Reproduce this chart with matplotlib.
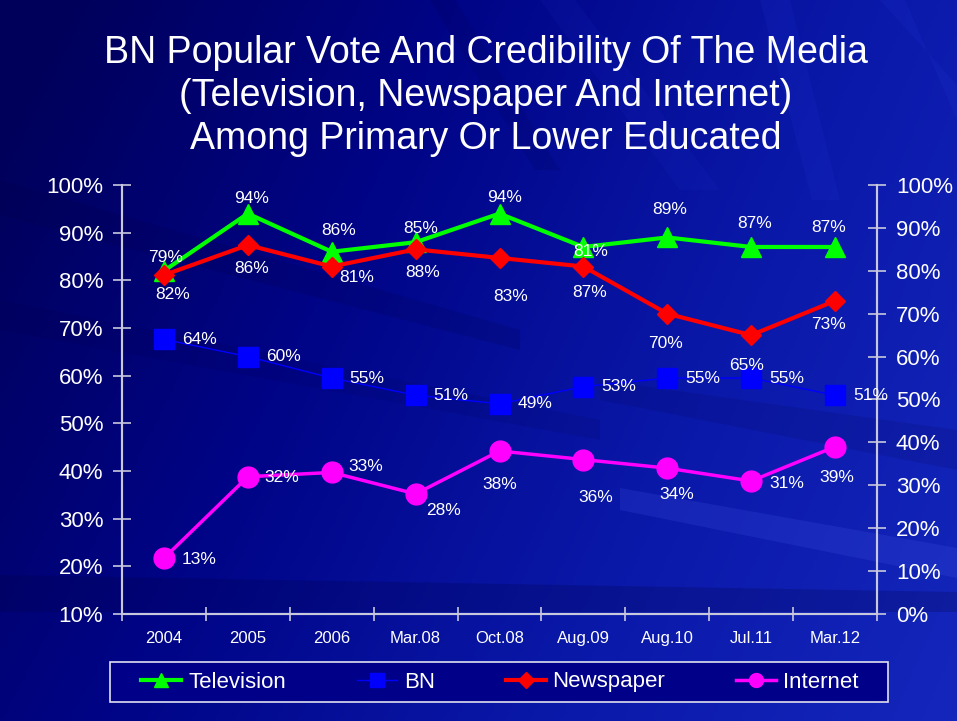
import matplotlib.pyplot as plt
import numpy as np
from matplotlib.colors import LinearSegmentedColormap
from matplotlib.lines import Line2D
from matplotlib.patches import Polygon, Rectangle
from matplotlib.ticker import FuncFormatter

periods = ["2004", "2005", "2006", "Mar.08", "Oct.08", "Aug.09", "Aug.10", "Jul.11", "Mar.12"]
television = [82, 94, 86, 88, 94, 87, 89, 87, 87]   # left axis (10-100%)
bn_vote = [64, 60, 55, 51, 49, 53, 55, 55, 51]      # right axis (0-100%)
newspaper = [79, 86, 81, 85, 83, 81, 70, 65, 73]    # right axis
internet = [13, 32, 33, 28, 38, 36, 34, 31, 39]     # right axis

# label offsets in pixels (dx, dy), purely layout
tv_off = [(9, -24), (4, 15), (7, 21), (7, -30), (5, 16), (6, -46), (2, 28), (3, 23), (-6, 19)]
np_off = [(2, 18), (4, -23), (25, -11), (5, 21), (11, -39), (7, 15), (-2, -30), (-5, -30), (-7, -24)]
net_off = [(35, -1), (34, -1), (34, 6), (28, -17), (0, -34), (12, -38), (9, -26), (36, -2), (2, -31)]

W, H = 957, 721
WHITE = "white"
AXIS = "#c8c8dc"

plt.rcParams["font.family"] = ["Liberation Sans", "DejaVu Sans"]

fig = plt.figure(figsize=(W / 100, H / 100), dpi=100)

# ---- background: navy gradient with a few soft streaks
bg = fig.add_axes([0, 0, 1, 1])
bg.set_xlim(0, W)
bg.set_ylim(H, 0)
bg.axis("off")
yy, xx = np.mgrid[0:1:300j, 0:1:300j]
grad = np.clip(0.75 * xx + 0.25 * yy - 0.05 * (1 - xx) * (1 - yy), 0, 1)
cmap = LinearSegmentedColormap.from_list("navy", ["#00005a", "#000486", "#0a18a8", "#1426bc"])
bg.imshow(grad, cmap=cmap, extent=[0, W, H, 0], aspect="auto", zorder=0)

streaks = [
    ([(540, 0), (575, 0), (720, 190), (680, 190)], "#3a50ff", 0.06),
    ([(760, 0), (790, 0), (840, 200), (812, 200)], "#3a50ff", 0.08),
    ([(880, 0), (905, 0), (957, 120), (957, 85)], "#3a50ff", 0.08),
    ([(430, 0), (455, 0), (560, 170), (535, 170)], "#000040", 0.12),
    ([(620, 488), (957, 548), (957, 578), (620, 510)], "#5a70ff", 0.14),
    ([(0, 180), (520, 330), (520, 350), (0, 215)], "#000040", 0.15),
    ([(0, 300), (600, 420), (600, 440), (0, 330)], "#000040", 0.10),
    ([(0, 575), (957, 592), (957, 612), (0, 612)], "#000040", 0.22),
    ([(600, 380), (957, 430), (957, 470), (600, 400)], "#000040", 0.12),
]
for pts, col, alpha in streaks:
    bg.add_patch(Polygon(pts, closed=True, facecolor=col, edgecolor="none", alpha=alpha, zorder=1))

# ---- title
title_lines = [
    "BN Popular Vote And Credibility Of The Media",
    "(Television, Newspaper And Internet)",
    "Among Primary Or Lower Educated",
]
for i, line in enumerate(title_lines):
    fig.text(486 / W, 1 - (63 + 43 * i) / H, line, color=WHITE, fontsize=27,
             ha="center", va="baseline")

# ---- main axes
ax = fig.add_axes([122 / W, 1 - 614 / H, (877 - 122) / W, (614 - 185) / H])
ax.patch.set_alpha(0)
x = np.arange(len(periods))
ax.set_xlim(-0.5, len(periods) - 0.5)
ax.set_ylim(10, 100)
ax.set_yticks(range(10, 101, 10))
ax.yaxis.set_major_formatter(FuncFormatter(lambda v, p: f"{int(v)}%"))

ax.set_xticks(np.arange(-0.5, len(periods), 1))
ax.set_xticklabels([])
ax.set_xticks(x, minor=True)
ax.set_xticklabels(periods, minor=True)
ax.tick_params(axis="x", which="major", direction="inout", length=10, width=1.2, color=AXIS)
ax.tick_params(axis="x", which="minor", length=0, pad=12, labelsize=12, labelcolor=WHITE)
ax.tick_params(axis="y", direction="inout", length=13, width=1.2, color=AXIS,
               labelsize=16, labelcolor=WHITE, pad=7)

ax2 = ax.twinx()
ax2.set_ylim(0, 100)
ax2.set_yticks(range(0, 101, 10))
ax2.yaxis.set_major_formatter(FuncFormatter(lambda v, p: f"{int(v)}%"))
ax2.tick_params(axis="y", direction="inout", length=13, width=1.2, color=AXIS,
                labelsize=16, labelcolor=WHITE, pad=7)

for a in (ax, ax2):
    a.spines["top"].set_visible(False)
    for s in ("left", "right", "bottom"):
        a.spines[s].set_color(AXIS)
        a.spines[s].set_linewidth(1.5)

# series
ax.plot(x, television, color="#00ff00", lw=3, marker="^", ms=14.5, zorder=3)
ax2.plot(x, bn_vote, color="#0000ff", lw=1, marker="s", ms=15, zorder=3)
ax2.plot(x, newspaper, color="#ff0000", lw=3, marker="D", ms=10, zorder=4)
ax2.plot(x, internet, color="#ff00ff", lw=2.5, marker="o", ms=15, zorder=4)

lbl = dict(color=WHITE, fontsize=12.5, textcoords="offset pixels", va="center", zorder=6)
for i, v in enumerate(television):
    ax.annotate(f"{v}%", (x[i], v), xytext=tv_off[i], ha="center", **lbl)
for i, v in enumerate(newspaper):
    ax2.annotate(f"{v}%", (x[i], v), xytext=np_off[i], ha="center", **lbl)
for i, v in enumerate(bn_vote):
    ax2.annotate(f"{v}%", (x[i], v), xytext=(18, 0), ha="left", **lbl)
for i, v in enumerate(internet):
    ax2.annotate(f"{v}%", (x[i], v), xytext=net_off[i], ha="center", **lbl)

# ---- legend
handles = [
    Line2D([], [], color="#00ff00", lw=3, marker="^", ms=10),
    Line2D([], [], color="#0000ff", lw=1, marker="s", ms=10),
    Line2D([], [], color="#ff0000", lw=3, marker="D", ms=8),
    Line2D([], [], color="#ff00ff", lw=2.5, marker="o", ms=10),
]
names = ["Television", "BN", "Newspaper", "Internet"]
fig.legend(handles, names, loc="center", bbox_to_anchor=(500 / W, 1 - 682 / H),
           ncol=4, frameon=False, fontsize=16, labelcolor=WHITE,
           handlelength=1.8, handletextpad=0.3, columnspacing=3.2)
fig.patches.append(Rectangle((110 / W, 1 - 702 / H), 778 / W, 40 / H,
                             transform=fig.transFigure, facecolor="#000088",
                             edgecolor="#e0e0f0", lw=1.2, zorder=0.5))

fig.savefig("out.png", dpi=100)
